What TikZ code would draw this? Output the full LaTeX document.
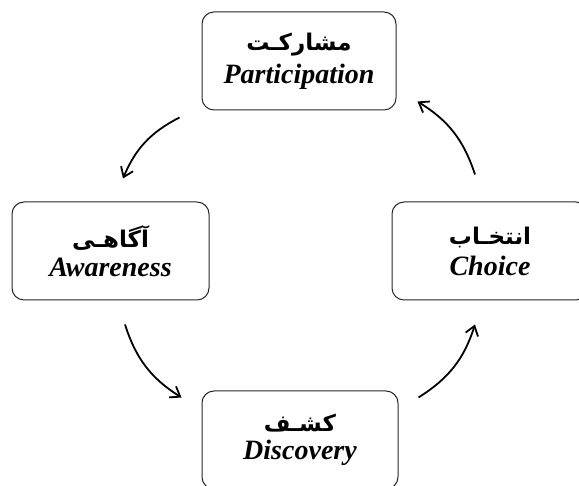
\documentclass[tikz,border=0pt]{standalone}
\usepackage{fontspec}
\setmainfont{Liberation Serif}
\newfontfamily\farsifont[Script=Arabic]{DejaVu Sans}
\TeXXeTstate=1
\usetikzlibrary{arrows.meta}

\newcommand{\fa}[1]{{\farsifont\bfseries\fontsize{23}{26}\selectfont\beginR #1\endR}}
\newcommand{\en}[1]{{\bfseries\itshape\fontsize{28}{32}\selectfont #1}}

\begin{document}
\begin{tikzpicture}[x=1pt,y=1pt,
  stage/.style = {shape=rectangle, draw=black!85, line width=1pt, rounded corners=12pt,
                  align=center, minimum width=194pt, minimum height=98pt, inner sep=2pt},
  cyclearrow/.style = {line width=1.8pt, -{Straight Barb[length=9pt,width=13pt]}, bend right=20}]

  \useasboundingbox (0,0) rectangle (579,486);
  \clip (0,0) rectangle (579,486);

  \node[stage] (part)   at (299,425) {\fa{مشارکـت}\\[7pt] \en{Participation}};
  \node[stage, minimum width=197pt] (aware) at (110.5,235) {\fa{آگاهـی}\\[7pt] \en{Awareness}};
  \node[stage, minimum width=196pt] (choice) at (490,235) {\fa{انتخـاب}\\[7pt] \en{Choice}};
  \node[stage, minimum width=196pt] (disc) at (300,46) {\fa{کشـف}\\[7pt] \en{Discovery}};

  \draw[cyclearrow] ([shift={(-22,-7)}]part.south west) to ([shift={(12.5,23)}]aware.north);
  \draw[cyclearrow] ([shift={(14.5,-24)}]aware.south) to ([shift={(-20,-7)}]disc.north west);
  \draw[cyclearrow] ([shift={(20,-7)}]disc.north east) to ([shift={(-15,-24)}]choice.south);
  \draw[cyclearrow] ([shift={(-15,27)}]choice.north) to ([shift={(21,9)}]part.south east);
\end{tikzpicture}
\end{document}
